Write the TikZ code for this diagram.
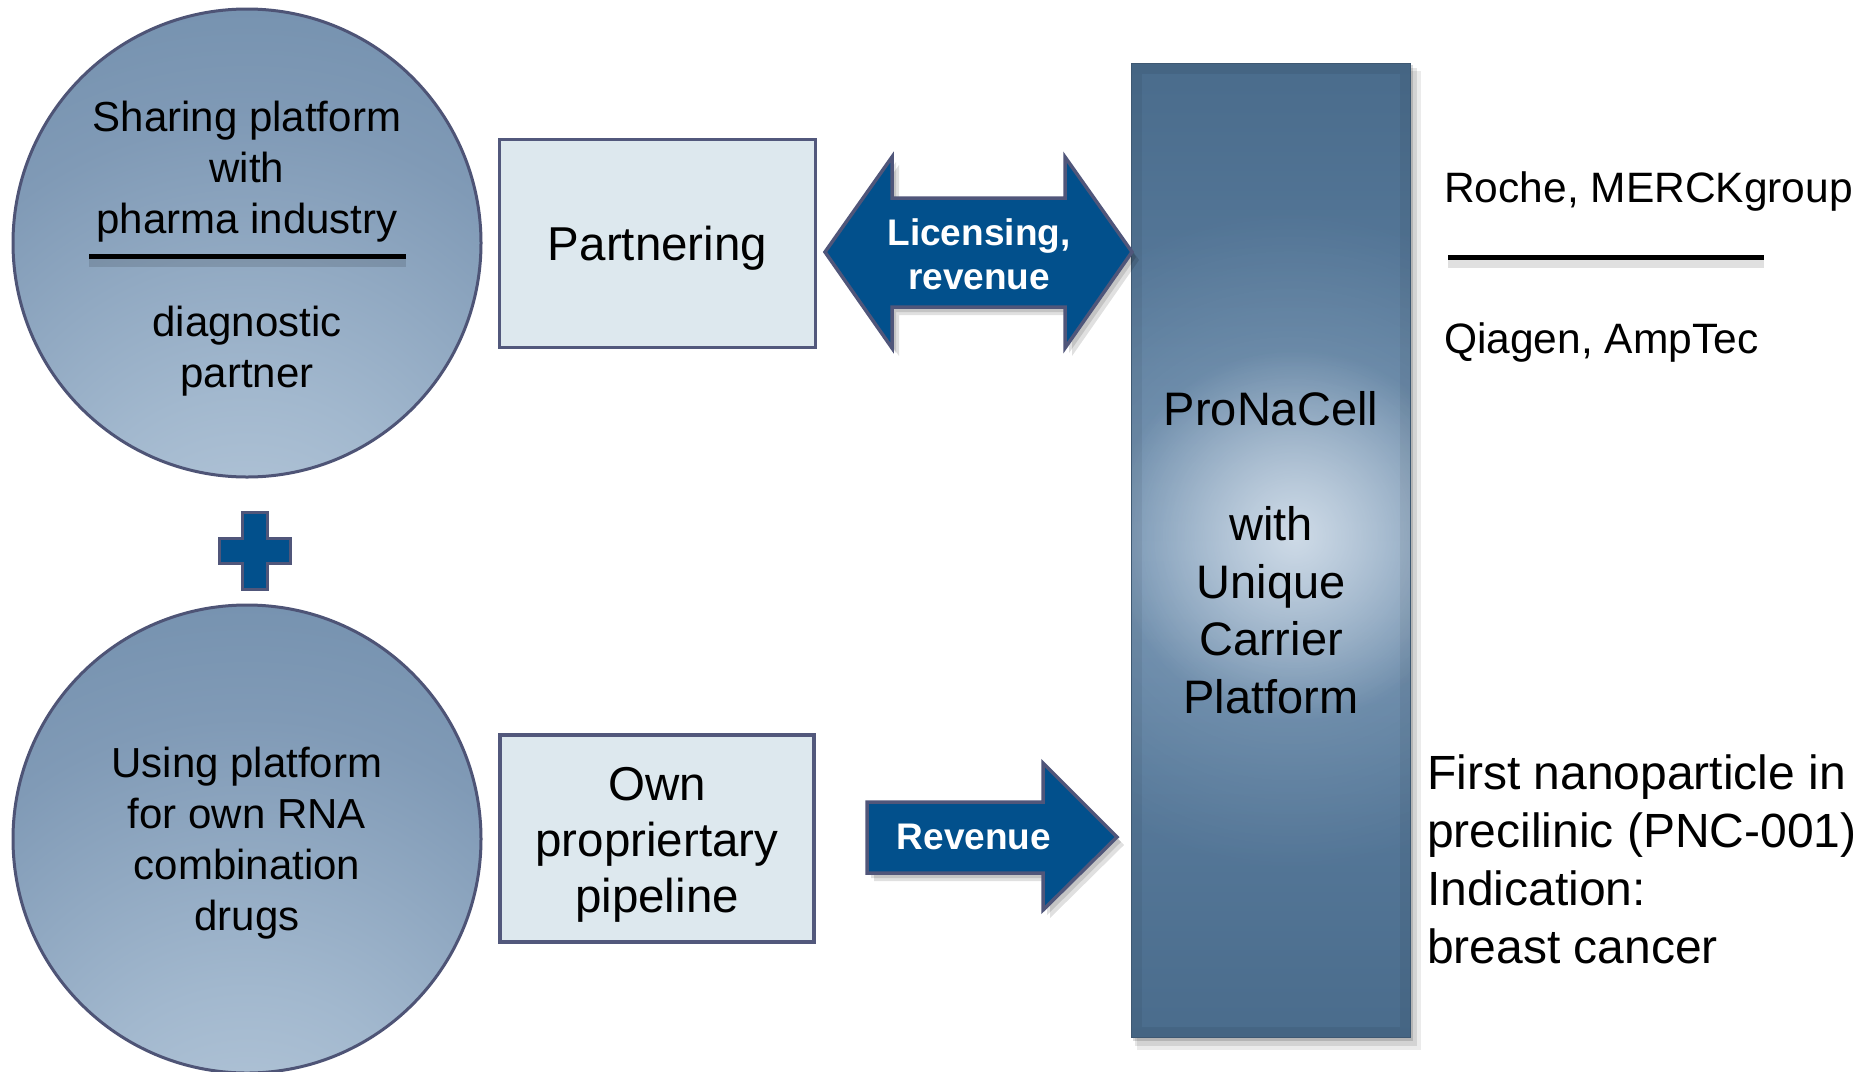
\documentclass[tikz,border=0pt]{standalone}
\usepackage{fontspec}
\setmainfont{Liberation Sans}
\usetikzlibrary{fadings}
\definecolor{cLight}{RGB}{192,208,224}
\definecolor{cLtwo}{RGB}{162,184,206}
\definecolor{cMid}{RGB}{128,154,182}
\definecolor{cMtwo}{RGB}{106,137,168}
\definecolor{cDark}{RGB}{90,122,154}
\definecolor{cCircB}{RGB}{78,84,118}
\definecolor{cBox}{RGB}{221,232,238}
\definecolor{cBoxB}{RGB}{82,88,124}
\definecolor{cArrow}{RGB}{2,80,140}
\definecolor{cArrowB}{RGB}{80,86,122}
\definecolor{cRectD}{RGB}{74,108,140}
\definecolor{cRectM}{RGB}{98,133,167}
\definecolor{cRectB}{RGB}{62,88,114}
\definecolor{cGlow}{RGB}{214,225,236}
\pgfdeclareradialshading{circshade}{\pgfpoint{0bp}{-45bp}}{color(0bp)=(cLight); color(20bp)=(cLtwo); color(40bp)=(cMid); color(60bp)=(cMtwo); color(82bp)=(cDark); color(100bp)=(cDark)}
\tikzfading[name=glowfade, inner color=transparent!0, outer color=transparent!100]
\newcommand\fsCirc{\fontsize{42}{51}\selectfont}
\newcommand\fsBig{\fontsize{47.5}{56}\selectfont}
\newcommand\fsPro{\fontsize{47}{57.5}\selectfont}
\newcommand\fsLow{\fontsize{48}{58}\selectfont}
\newcommand\fsRight{\fontsize{42.5}{50}\selectfont}
\newcommand\fsArrow{\bfseries\fontsize{37}{44}\selectfont}
\newcommand\licpath{(825,252) -- ++(67,-95) -- ++(0,41) -- ++(173,0) -- ++(0,-41) -- (1132,252) -- ++(-67,96) -- ++(0,-41) -- ++(-173,0) -- ++(0,41) -- cycle}
\newcommand\revpath{(867,802) -- (1043,802) -- (1043,763) -- (1117,837) -- (1043,910) -- (1043,873) -- (867,873) -- cycle}
\begin{document}
\begin{tikzpicture}[x=1pt,y=-1pt,
  circ/.style={circle, draw=cCircB, line width=3pt, minimum size=468pt, inner sep=0pt, shade, shading=circshade},
  boxst/.style={draw=cBoxB, fill=cBox, line width=3.5pt, inner sep=0pt},
  txt/.style={inner sep=0pt, align=center},
  arrowst/.style={fill=cArrow, draw=cArrowB, line width=3.5pt},
  shadowst/.style={fill=black, opacity=0.12},
  sepline/.style={line width=5pt, black},
  sepshadow/.style={line width=8pt, black, opacity=0.12}
]
\useasboundingbox (0,0) rectangle (1867,1071);
\clip (0,0) rectangle (1867,1071);
\fill[white] (0,0) rectangle (1867,1071);

% circles
\node[circ] (share) at (247,243) {};
\node[circ] (using) at (247,839) {};
\draw[sepshadow] (89,263) -- (406,263);
\draw[sepline] (89,256) -- (406,256);
\node[txt, font=\fsCirc] (shareT) at (247,172) {Sharing platform\\with\\pharma industry};
\node[txt, font=\fsCirc] (diagT) at (247,351) {diagnostic\\partner};
\node[txt, font=\fsCirc] (usingT) at (247,843.3) {Using platform\\for own RNA\\combination\\drugs};

% plus
\filldraw[fill=cArrow, draw=cArrowB, line width=3pt] (242,512) -- (267,512) -- (267,538) -- (290,538) -- (290,563) -- (267,563) -- (267,589) -- (242,589) -- (242,563) -- (219,563) -- (219,538) -- (242,538) -- cycle;

% boxes
\node[boxst, minimum width=316pt, minimum height=208pt] (partner) at (657.5,243.5) {};
\node[txt, font=\fsBig, anchor=base] (partnerT) at (657.5,260) {Partnering};
\node[boxst, minimum width=314pt, minimum height=207pt] (own) at (657,838.5) {};
\node[txt, font=\fsBig] (ownT) at (657,845) {Own\\propriertary\\pipeline};

% ProNaCell column shadow
\fill[black, opacity=0.08] (1137,71) rectangle (1421,1050);
\fill[black, opacity=0.10] (1135,68) rectangle (1417,1046);
\fill[black, opacity=0.14] (1133,65) rectangle (1413,1041);
\node[minimum width=278pt, minimum height=973pt, inner sep=0pt, shade, top color=cRectD, bottom color=cRectD, middle color=cRectM] (pro) at (1271,550.5) {};
\begin{scope}
  \clip (pro.north west) rectangle (pro.south east);
  \fill[cGlow, opacity=0.35, path fading=glowfade] (1290,540) circle (330pt);
  \fill[cGlow, opacity=0.9, path fading=glowfade] (1295,535) circle (185pt);
  \draw[black, opacity=0.06, line width=10pt] ([xshift=5pt,yshift=-5pt]pro.north west) rectangle ([xshift=-5pt,yshift=5pt]pro.south east);
\end{scope}
\draw[cRectB, line width=1.2pt] (pro.north west) rectangle (pro.south east);
\node[txt, font=\fsPro] (proT) at (1271,552.6) {ProNaCell\\[57.5pt]with\\Unique\\Carrier\\Platform};

% block arrows
\fill[shadowst, shift={(7,8)}] \licpath;
\fill[shadowst, shift={(4,5)}] \licpath;
\filldraw[arrowst] \licpath;
\node[txt, font=\fsArrow, text=white] (licT) at (979,254) {Licensing,\\revenue};
\fill[shadowst, shift={(7,8)}] \revpath;
\fill[shadowst, shift={(4,5)}] \revpath;
\filldraw[arrowst] \revpath;
\node[txt, font=\fsArrow, text=white] (revT) at (974,837) {Revenue};

% right texts
\node[anchor=base west, inner sep=0pt, font=\fsRight] (roche) at (1444,202) {Roche, MERCKgroup};
\draw[sepshadow] (1448,264) -- (1764,264);
\draw[sepline] (1448,257) -- (1764,257);
\node[anchor=base west, inner sep=0pt, font=\fsRight] (qiagen) at (1444,353) {Qiagen, AmpTec};
\node[anchor=west, inner sep=0pt, align=left, font=\fsLow] (first) at (1427,859) {First nanoparticle in\\precilinic (PNC-001)\\Indication:\\breast cancer};
\end{tikzpicture}
\end{document}
